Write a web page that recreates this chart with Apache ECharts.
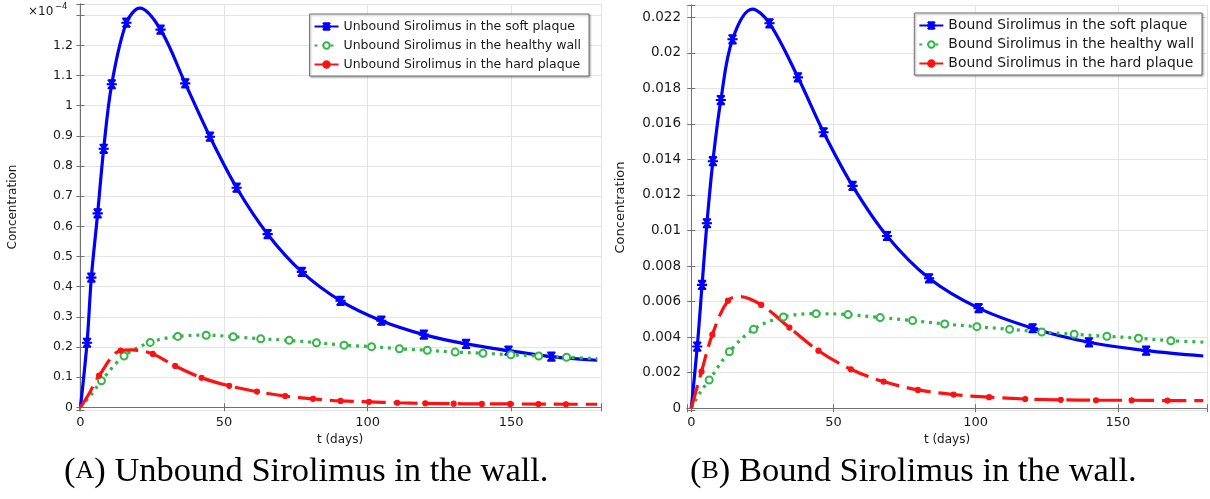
<!DOCTYPE html>
<html>
<head>
<meta charset="utf-8">
<script src="https://cdn.jsdelivr.net/npm/echarts@6/dist/echarts.min.js"></script>
<style>
html,body{margin:0;padding:0;background:#fff}
#main{width:1210px;height:499px}
</style>
</head>
<body>
<div id="main"></div>
<script>
// points are [t (days), concentration, marker shown 1/0]
// left panel values are in units of 1e-4
var unboundSoft = [[0,0,0],[2.3,0.214,1],[3.8,0.43,1],[6.0,0.643,1],[8.1,0.857,1],[10.9,1.071,1],[16.0,1.275,1],[20.7,1.323,0],[27.9,1.252,1],[36.5,1.074,1],[45.1,0.897,1],[54.4,0.728,1],[65.2,0.574,1],[77.1,0.449,1],[90.6,0.353,1],[104.8,0.287,1],[119.6,0.241,1],[134.3,0.210,1],[149.1,0.188,1],[164.0,0.168,1],[180,0.156,0]];
var unboundHealthy = [[0,0,0],[4,0.045,0],[7.3,0.088,1],[15.2,0.170,1],[24.3,0.215,1],[33.9,0.235,1],[43.8,0.239,1],[53.2,0.234,1],[62.8,0.227,1],[72.7,0.222,1],[82.2,0.214,1],[91.8,0.206,1],[101.4,0.201,1],[111.1,0.194,1],[120.8,0.189,1],[130.5,0.183,1],[140.2,0.179,1],[149.9,0.174,1],[159.6,0.170,1],[169.3,0.166,1],[180,0.161,0]];
var unboundHard = [[0,0,0],[3,0.045,0],[6.5,0.105,1],[14.0,0.188,1],[18,0.19,0],[25.2,0.177,1],[33.0,0.137,1],[42.2,0.098,1],[51.8,0.071,1],[61.5,0.052,1],[71.3,0.037,1],[81.0,0.028,1],[90.6,0.021,1],[100.5,0.018,1],[110.3,0.015,1],[120.1,0.013,1],[130,0.012,1],[139.8,0.011,1],[149.7,0.011,1],[159.5,0.0105,1],[169.1,0.010,1],[180,0.010,0]];

var boundSoft = [[0,0,0],[2.1,0.00347,1],[3.8,0.00694,1],[5.5,0.01041,1],[7.6,0.0139,1],[10.4,0.01734,1],[14.5,0.02076,1],[21.5,0.02246,0],[27.5,0.02166,1],[37.5,0.01862,1],[46.5,0.01553,1],[56.7,0.01251,1],[68.8,0.00969,1],[83.6,0.00731,1],[101,0.00563,1],[120,0.0045,1],[139.8,0.00371,1],[159.9,0.00324,1],[180,0.00294,0]];
var boundHealthy = [[0,0,0],[3.2,0.0009,0],[6.3,0.00159,1],[13.4,0.00318,1],[21.9,0.00444,1],[32.4,0.00514,1],[43.9,0.00532,1],[55.1,0.00527,1],[66.4,0.0051,1],[77.8,0.00493,1],[89.1,0.00474,1],[100.4,0.00459,1],[111.9,0.00444,1],[123.2,0.00429,1],[134.6,0.00416,1],[146.1,0.00405,1],[157.2,0.00394,1],[168.6,0.0038,1],[180,0.00372,0]];
var boundHard = [[0,0,0],[3.6,0.00206,1],[7.4,0.00414,1],[12.9,0.00605,1],[17.2,0.00628,0],[24.6,0.00581,1],[34.5,0.00454,1],[44.7,0.00324,1],[56.1,0.00219,1],[67.6,0.0015,1],[79.7,0.00103,1],[92.2,0.00077,1],[104.7,0.00062,1],[117.4,0.00052,1],[129.9,0.00047,1],[142.3,0.00045,1],[154.8,0.00045,1],[167.4,0.00043,1],[180,0.00043,0]];

var namesA = ['Unbound Sirolimus in the soft plaque', 'Unbound Sirolimus in the healthy wall', 'Unbound Sirolimus in the hard plaque'];
var namesB = ['Bound Sirolimus in the soft plaque', 'Bound Sirolimus in the healthy wall', 'Bound Sirolimus in the hard plaque'];

var BLUE = '#0000ff', GREEN = '#33b54a', RED = '#ff1111';
var AXIS = '#707070', GRID = '#e4e4e4', TXT = '#1a1a1a';
var star = 'path://M9 0H11V20H9Z M4 0H16V2H4Z M4 18H16V20H4Z M2 9H18V11H2Z M4 2L6 2L16 18L14 18Z M14 2L16 2L6 18L4 18Z';

var chart = echarts.init(document.getElementById('main'));

function pts(arr) {
  return arr.map(function (p) {
    return p[2] ? [p[0], p[1]] : { value: [p[0], p[1]], symbol: 'none' };
  });
}

function line(name, arr, g, color, dash, sym, size) {
  return {
    name: name, type: 'line', xAxisIndex: g * 2, yAxisIndex: g * 2,
    data: pts(arr), smooth: 0.35, showAllSymbol: true,
    symbol: sym, symbolSize: size,
    lineStyle: { color: color, width: 3.2, type: dash, cap: 'butt' },
    itemStyle: { color: color, borderColor: color, borderWidth: 1.2 },
    emphasis: { disabled: true }
  };
}

// label only the multiples of step, up to top
function stepLabel(step, digits, top) {
  return function (v) {
    var k = Math.round(v / step);
    if (v < -1e-12 || v > top || Math.abs(v / step - k) > 1e-6) return '';
    return String(+(k * step).toFixed(digits));
  };
}

function xAxes(g, min, max, fs) {
  var base = { type: 'value', gridIndex: g, min: min, max: max, minInterval: 50, maxInterval: 50,
    axisLine: { lineStyle: { color: AXIS, width: 1 } },
    axisTick: { inside: true, length: 4, lineStyle: { color: AXIS } } };
  return [
    Object.assign({}, base, {
      position: 'bottom', name: 't (days)', nameLocation: 'middle', nameGap: 21,
      nameTextStyle: { fontSize: 12, color: TXT, fontFamily: 'DejaVu Sans' },
      axisLabel: { margin: 6, fontSize: fs, color: TXT, fontFamily: 'DejaVu Sans', formatter: stepLabel(50, 0, 1000) },
      splitLine: { show: true, lineStyle: { color: GRID } }
    }),
    Object.assign({}, base, { position: 'top', axisLabel: { show: false }, splitLine: { show: false } })
  ];
}

function yAxes(g, min, max, step, digits, top, fs, nfs) {
  var base = { type: 'value', gridIndex: g, min: min, max: max, minInterval: step, maxInterval: step,
    axisLine: { show: true, lineStyle: { color: AXIS, width: 1 } },
    axisTick: { show: true, inside: true, length: 4, lineStyle: { color: AXIS } } };
  return [
    Object.assign({}, base, {
      position: 'left', name: 'Concentration', nameLocation: 'middle', nameGap: 60, nameRotate: 90,
      nameTextStyle: { fontSize: nfs, color: TXT, fontFamily: 'DejaVu Sans' },
      axisLabel: { margin: 6, fontSize: fs, color: TXT, fontFamily: 'DejaVu Sans', formatter: stepLabel(step, digits, top) },
      splitLine: { show: true, lineStyle: { color: GRID } }
    }),
    Object.assign({}, base, { position: 'right', axisLabel: { show: false }, splitLine: { show: false } })
  ];
}

function legend(names, right, top, fs) {
  return {
    data: names, orient: 'vertical', right: right, top: top,
    itemWidth: 24, itemHeight: 8, itemGap: 4,
    padding: [5, 8, 4, 4],
    backgroundColor: '#fff', borderColor: '#777', borderWidth: 1,
    shadowBlur: 2, shadowOffsetX: 1, shadowOffsetY: 1, shadowColor: 'rgba(0,0,0,0.35)',
    textStyle: { fontSize: fs, color: TXT, fontFamily: 'DejaVu Sans', lineHeight: 15 },
    selectedMode: false
  };
}

var capRich = {
  p: { fontSize: 34.5, fontFamily: 'Liberation Serif', color: '#111' },
  s: { fontSize: 26, fontFamily: 'Liberation Serif', color: '#111' }
};

var option = {
  animation: false,
  grid: [
    { left: 79, top: 4, width: 522, height: 406 },
    { left: 687, top: 5, width: 520, height: 405 }
  ],
  xAxis: xAxes(0, -0.5, 181.3, 13).concat(xAxes(1, -1.5, 181.3, 13)),
  yAxis: yAxes(0, -0.009, 1.337, 0.1, 1, 1.25, 12.5, 12).concat(yAxes(1, -0.0001, 0.02269, 0.002, 3, 1, 13.5, 13)),
  legend: [legend(namesA, 621, 14, 12.5), legend(namesB, 8, 13, 13.9)],
  series: [
    line(namesA[0], unboundSoft, 0, BLUE, 'solid', star, 9),
    line(namesA[1], unboundHealthy, 0, GREEN, [3, 5], 'emptyCircle', 7),
    line(namesA[2], unboundHard, 0, RED, [24, 8], 'circle', 5),
    line(namesB[0], boundSoft, 1, BLUE, 'solid', star, 9),
    line(namesB[1], boundHealthy, 1, GREEN, [3, 5], 'emptyCircle', 7),
    line(namesB[2], boundHard, 1, RED, [24, 8], 'circle', 5)
  ],
  graphic: [
    { type: 'text', left: 28, top: 6, style: { text: '\u00d710', fontSize: 12, fontFamily: 'DejaVu Sans', fill: TXT } },
    { type: 'text', left: 55, top: 2, style: { text: '\u22124', fontSize: 8.5, fontFamily: 'DejaVu Sans', fill: TXT } },
    { type: 'text', left: 64, top: 454, style: { text: '{p|(}{s|A}{p|) Unbound Sirolimus in the wall.}', rich: capRich } },
    { type: 'text', left: 690, top: 454, style: { text: '{p|(}{s|B}{p|) Bound Sirolimus in the wall.}', rich: capRich } }
  ]
};
chart.setOption(option);
</script>
</body>
</html>
